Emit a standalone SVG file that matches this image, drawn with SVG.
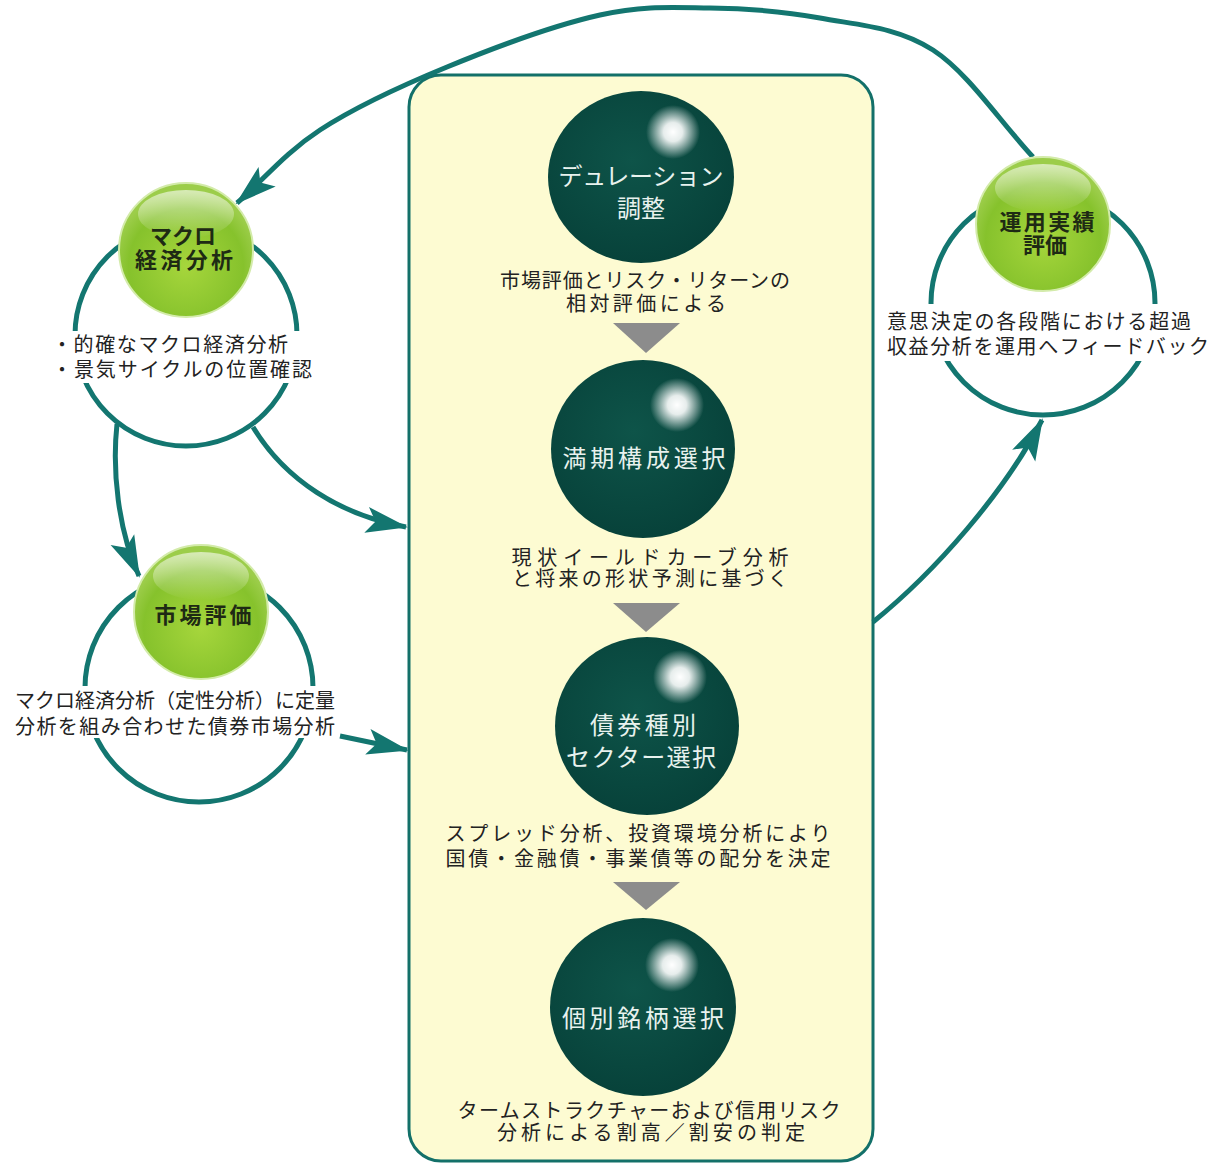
<svg xmlns="http://www.w3.org/2000/svg" width="1213" height="1165" viewBox="0 0 1213 1165">
<style>
.ring{fill:none;stroke:#137670;stroke-width:5}
.conn{fill:none;stroke:#137670;stroke-width:5}
.box{fill:#fdfbd2;stroke:#137069;stroke-width:3}
.tri{fill:#8c8c8c}
.desc{font-family:"Noto Sans CJK JP","Noto Sans CJK SC",sans-serif;font-size:20px;fill:#222}
.dt{font-family:"Noto Sans CJK JP","Noto Sans CJK SC",sans-serif;font-size:24px;fill:#e8f2ee;text-anchor:middle}
.gt{font-family:"Noto Sans CJK JP","Noto Sans CJK SC",sans-serif;font-size:22px;font-weight:bold;fill:#1e2a14;text-anchor:middle}
.mid{text-anchor:middle}
.wb{fill:#ffffff}
</style>
<defs>
<radialGradient id="gG" cx="0.5" cy="0.62" r="0.55">
<stop offset="0" stop-color="#a6d63c"/>
<stop offset="0.78" stop-color="#86c22c"/>
<stop offset="1" stop-color="#9ccd4a"/>
</radialGradient>
<linearGradient id="gH" x1="0" y1="0" x2="0" y2="1">
<stop offset="0" stop-color="#ffffff" stop-opacity="0.6"/>
<stop offset="1" stop-color="#ffffff" stop-opacity="0"/>
</linearGradient>
<radialGradient id="gD" cx="0.45" cy="0.4" r="0.6">
<stop offset="0" stop-color="#0e5449"/>
<stop offset="1" stop-color="#07423a"/>
</radialGradient>
<radialGradient id="gW" cx="0.5" cy="0.5" r="0.5">
<stop offset="0" stop-color="#ffffff" stop-opacity="1"/>
<stop offset="0.35" stop-color="#ffffff" stop-opacity="0.9"/>
<stop offset="1" stop-color="#ffffff" stop-opacity="0"/>
</radialGradient>
<marker id="ah" markerUnits="userSpaceOnUse" markerWidth="60" markerHeight="40" viewBox="-50 -20 60 40" refX="0" refY="0" orient="auto">
<path d="M2,0 L-40,-13 L-31,0 L-40,13 Z" fill="#137670"/>
</marker>
</defs>
<rect width="1213" height="1165" fill="#ffffff"/>

<g id="process-box">
<rect class="box" x="409" y="75" width="464" height="1086" rx="32" ry="32"/>
<polygon class="tri" points="613,323 680,323 646,353"/>
<polygon class="tri" points="613,603 680,603 646,632"/>
<polygon class="tri" points="613,882 680,882 646,910"/>
</g>

<g id="rings">
<circle class="ring" cx="186" cy="335" r="111"/>
<circle class="ring" cx="199" cy="688" r="114"/>
<circle class="ring" cx="1043" cy="303" r="112"/>
<rect class="wb" x="54" y="331" width="264" height="52"/>
<rect class="wb" x="12" y="686" width="326" height="52"/>
<rect class="wb" x="884" y="304" width="327" height="57"/>
</g>

<g id="connectors">
<path class="conn" marker-end="url(#ah)" d="M1033,157 C999.7,121.3 968.5,73.2 933,50 C897.5,26.8 857.2,25 820,18 C782.8,11 746.7,8.5 710,8 C673.3,7.5 643.8,5.2 600,15 C556.2,24.8 493.7,47.8 447,67 C400.3,86.2 355.3,107 320,130 C284.7,153 263.3,180 237,203"/>
<path class="conn" marker-end="url(#ah)" d="M117,424 C112,470 118,530 139,576"/>
<path class="conn" marker-end="url(#ah)" d="M253,427 C285,480 340,515 406,527"/>
<path class="conn" marker-end="url(#ah)" d="M340,736 L407,750"/>
<path class="conn" marker-end="url(#ah)" d="M873,622 C935,572 1005,492 1042,420"/>
</g>

<g id="node-macro">
<circle cx="186" cy="250" r="67" fill="url(#gG)" stroke="#d3ebaa" stroke-width="2"/>
<ellipse cx="186" cy="214" rx="48" ry="24" fill="url(#gH)"/>
<text class="gt" x="183" y="244">マクロ</text>
<text class="gt" x="184" y="268" textLength="98" lengthAdjust="spacing">経済分析</text>
<text class="desc" x="52" y="352" textLength="236" lengthAdjust="spacing">・的確なマクロ経済分析</text>
<text class="desc" x="52" y="377" textLength="260" lengthAdjust="spacing">・景気サイクルの位置確認</text>
</g>

<g id="node-market">
<circle cx="201" cy="612" r="67" fill="url(#gG)" stroke="#d3ebaa" stroke-width="2"/>
<ellipse cx="201" cy="576" rx="48" ry="24" fill="url(#gH)"/>
<text class="gt" x="203" y="623" textLength="97" lengthAdjust="spacing">市場評価</text>
<text class="desc" x="15" y="708" textLength="320" lengthAdjust="spacing">マクロ経済分析（定性分析）に定量</text>
<text class="desc" x="15" y="734" textLength="320" lengthAdjust="spacing">分析を組み合わせた債券市場分析</text>
</g>

<g id="node-performance">
<circle cx="1043" cy="224" r="67" fill="url(#gG)" stroke="#d3ebaa" stroke-width="2"/>
<ellipse cx="1043" cy="188" rx="48" ry="24" fill="url(#gH)"/>
<text class="gt" x="1047" y="230" textLength="95" lengthAdjust="spacing">運用実績</text>
<text class="gt" x="1045" y="253">評価</text>
<text class="desc" x="887" y="329" textLength="304" lengthAdjust="spacing">意思決定の各段階における超過</text>
<text class="desc" x="887" y="354" textLength="322" lengthAdjust="spacing">収益分析を運用へフィードバック</text>
</g>

<g id="node-duration">
<ellipse cx="641" cy="177" rx="93" ry="86" fill="url(#gD)"/>
<circle cx="673" cy="132" r="27" fill="url(#gW)"/>
<text class="dt" x="641" y="185" textLength="165" lengthAdjust="spacing">デュレーション</text>
<text class="dt" x="641" y="217">調整</text>
<text class="desc mid" x="645" y="288" textLength="290" lengthAdjust="spacing">市場評価とリスク・リターンの</text>
<text class="desc mid" x="646" y="311" textLength="160" lengthAdjust="spacing">相対評価による</text>
</g>

<g id="node-maturity">
<ellipse cx="643" cy="449" rx="92" ry="89" fill="url(#gD)"/>
<circle cx="677" cy="405" r="27" fill="url(#gW)"/>
<text class="dt" x="644" y="467" textLength="163" lengthAdjust="spacing">満期構成選択</text>
<text class="desc mid" x="650" y="565" textLength="277" lengthAdjust="spacing">現状イールドカーブ分析</text>
<text class="desc mid" x="650" y="586" textLength="276" lengthAdjust="spacing">と将来の形状予測に基づく</text>
</g>

<g id="node-sector">
<ellipse cx="647" cy="726" rx="92" ry="89" fill="url(#gD)"/>
<circle cx="680" cy="677" r="27" fill="url(#gW)"/>
<text class="dt" x="643" y="734" textLength="106" lengthAdjust="spacing">債券種別</text>
<text class="dt" x="641" y="766" textLength="150" lengthAdjust="spacing">セクター選択</text>
<text class="desc mid" x="638" y="841" textLength="385" lengthAdjust="spacing">スプレッド分析、投資環境分析により</text>
<text class="desc mid" x="638" y="866" textLength="385" lengthAdjust="spacing">国債・金融債・事業債等の配分を決定</text>
</g>

<g id="node-issue">
<ellipse cx="643" cy="1007" rx="93" ry="89" fill="url(#gD)"/>
<circle cx="672" cy="965" r="27" fill="url(#gW)"/>
<text class="dt" x="643" y="1027" textLength="162" lengthAdjust="spacing">個別銘柄選択</text>
<text class="desc mid" x="649" y="1118" textLength="383" lengthAdjust="spacing">タームストラクチャーおよび信用リスク</text>
<text class="desc mid" x="651" y="1140" textLength="308" lengthAdjust="spacing">分析による割高／割安の判定</text>
</g>
</svg>
